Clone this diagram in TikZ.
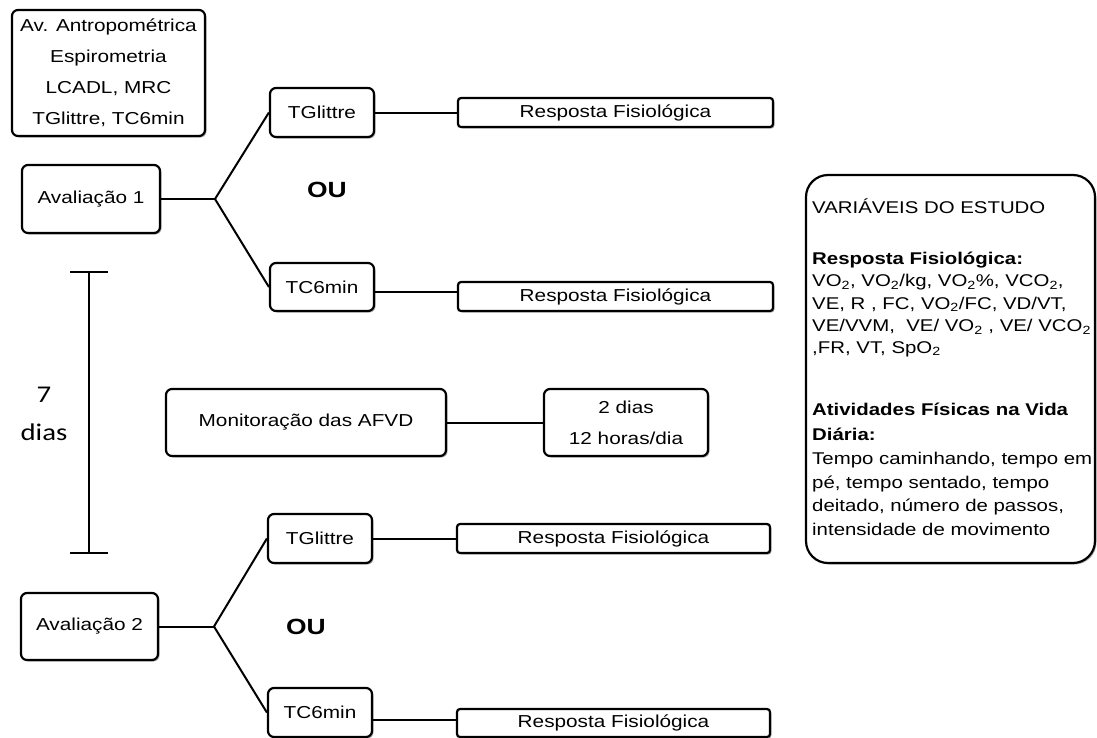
\documentclass[tikz,border=0pt]{standalone}
\usepackage{fontspec}
\setmainfont{Liberation Sans}[FakeStretch=1.2]
\newfontfamily\calfont{Carlito}[FakeStretch=1.2]
\usetikzlibrary{shadows,calc}
\begin{document}
\begin{tikzpicture}[x=1pt,y=-1pt,
  box/.style={draw, line width=2.2pt, rounded corners=6pt, fill=white,
    drop shadow={shadow xshift=1.5pt, shadow yshift=-1.5pt, opacity=0.3, fill=black},
    inner sep=0pt, align=center, font=\fontsize{17.3}{31}\selectfont},
  rbox/.style={box, rounded corners=3pt},
  conn/.style={line width=2pt},
  ou/.style={font=\bfseries\fontsize{22}{24}\selectfont},
  vline/.style={anchor=base west, inner sep=0pt, font=\fontsize{17}{20}\selectfont}]
\useasboundingbox (0,0) rectangle (1097,737);

% top-left box
\node[box, minimum width=193pt, minimum height=126pt] (pre) at (108.5,73)
  {Av. Antropométrica\\Espirometria\\LCADL, MRC\\TGlittre, TC6min};

% Avaliacao 1
\node[box, minimum width=138pt, minimum height=68pt] (av1) at (91,199) {Avaliação 1};
\node[box, minimum width=104pt, minimum height=49pt] (tg1) at (322,112.5) {TGlittre};
\node[box, minimum width=104pt, minimum height=48pt] (tc1) at (322,287) {TC6min};
\node[rbox, minimum width=315pt, minimum height=29pt] (r1) at (615.5,112.5) {Resposta Fisiológica};
\node[rbox, minimum width=315pt, minimum height=29pt] (r2) at (615.5,296.5) {Resposta Fisiológica};
\node[ou] (ou1) at (327,190) {OU};
\coordinate (j1) at (215,199);
\draw[conn] (av1.east) -- (j1);
\draw[conn] (j1) -- (tg1.west);
\draw[conn] (j1) -- (tc1.west);
\draw[conn] (tg1.east) -- (r1.west);
\draw[conn] (tc1.east |- 0,291.7) -- (r2.west |- 0,291.7);

% 7 dias bar
\coordinate (bt) at (89,272);
\coordinate (bb) at (89,553);
\draw[conn] (bt) -- (bb);
\draw[conn] ($(bt)+(-19,0)$) -- ($(bt)+(19,0)$);
\draw[conn] ($(bb)+(-19,0)$) -- ($(bb)+(19,0)$);
\node[font=\calfont\fontsize{24}{26}\selectfont] (seven) at (44,395) {7};
\node[font=\calfont\fontsize{24}{26}\selectfont] (dias) at (44,432) {dias};

% Monitoracao
\node[box, minimum width=280pt, minimum height=67pt] (mon) at (306,422.5) {Monitoração das AFVD};
\node[box, minimum width=164pt, minimum height=67pt] (dur) at (626,422.5) {2 dias\\12 horas/dia};
\draw[conn] (mon.east) -- (dur.west);

% Avaliacao 2
\node[box, minimum width=137pt, minimum height=67pt] (av2) at (89.5,626.5) {Avaliação 2};
\node[box, minimum width=104pt, minimum height=49pt] (tg2) at (320,538.5) {TGlittre};
\node[box, minimum width=104pt, minimum height=49pt] (tc2) at (320,712.5) {TC6min};
\node[rbox, minimum width=313pt, minimum height=29pt] (r3) at (613.5,538.5) {Resposta Fisiológica};
\node[rbox, minimum width=313pt, minimum height=28pt] (r4) at (613.5,723) {Resposta Fisiológica};
\node[ou] (ou2) at (306,627) {OU};
\coordinate (j2) at (214,626.5);
\draw[conn] (av2.east) -- (j2);
\draw[conn] (j2) -- (tg2.west);
\draw[conn] (j2) -- (tc2.west);
\draw[conn] (tg2.east) -- (r3.west);
\draw[conn] (tc2.east |- 0,720) -- (r4.west |- 0,720);

% variables box
\node[box, rounded corners=22pt, minimum width=289pt, minimum height=388pt] (vars) at (950.5,369) {};
\node[vline] (v1) at (812,213) {VARIÁVEIS DO ESTUDO};
\node[vline] (v2) at (812,264) {\bfseries Resposta Fisiológica:};
\node[vline] (v3) at (812,286.5) {VO\textsubscript{2}, VO\textsubscript{2}/kg, VO\textsubscript{2}\%, VCO\textsubscript{2},};
\node[vline] (v4) at (812,309) {VE, R , FC, VO\textsubscript{2}/FC, VD/VT,};
\node[vline] (v5) at (812,331.5) {VE/VVM,\ \ VE/ VO\textsubscript{2} , VE/ VCO\textsubscript{2}};
\node[vline] (v6) at (812,353) {,FR, VT, SpO\textsubscript{2}};
\node[vline] (v7) at (812,415) {\bfseries Atividades Físicas na Vida};
\node[vline] (v8) at (812,440) {\bfseries Diária:};
\node[vline] (v9) at (812,464.5) {Tempo caminhando, tempo em};
\node[vline] (v10) at (812,488) {pé, tempo sentado, tempo};
\node[vline] (v11) at (812,511.5) {deitado, número de passos,};
\node[vline] (v12) at (812,535) {intensidade de movimento};
\end{tikzpicture}
\end{document}
